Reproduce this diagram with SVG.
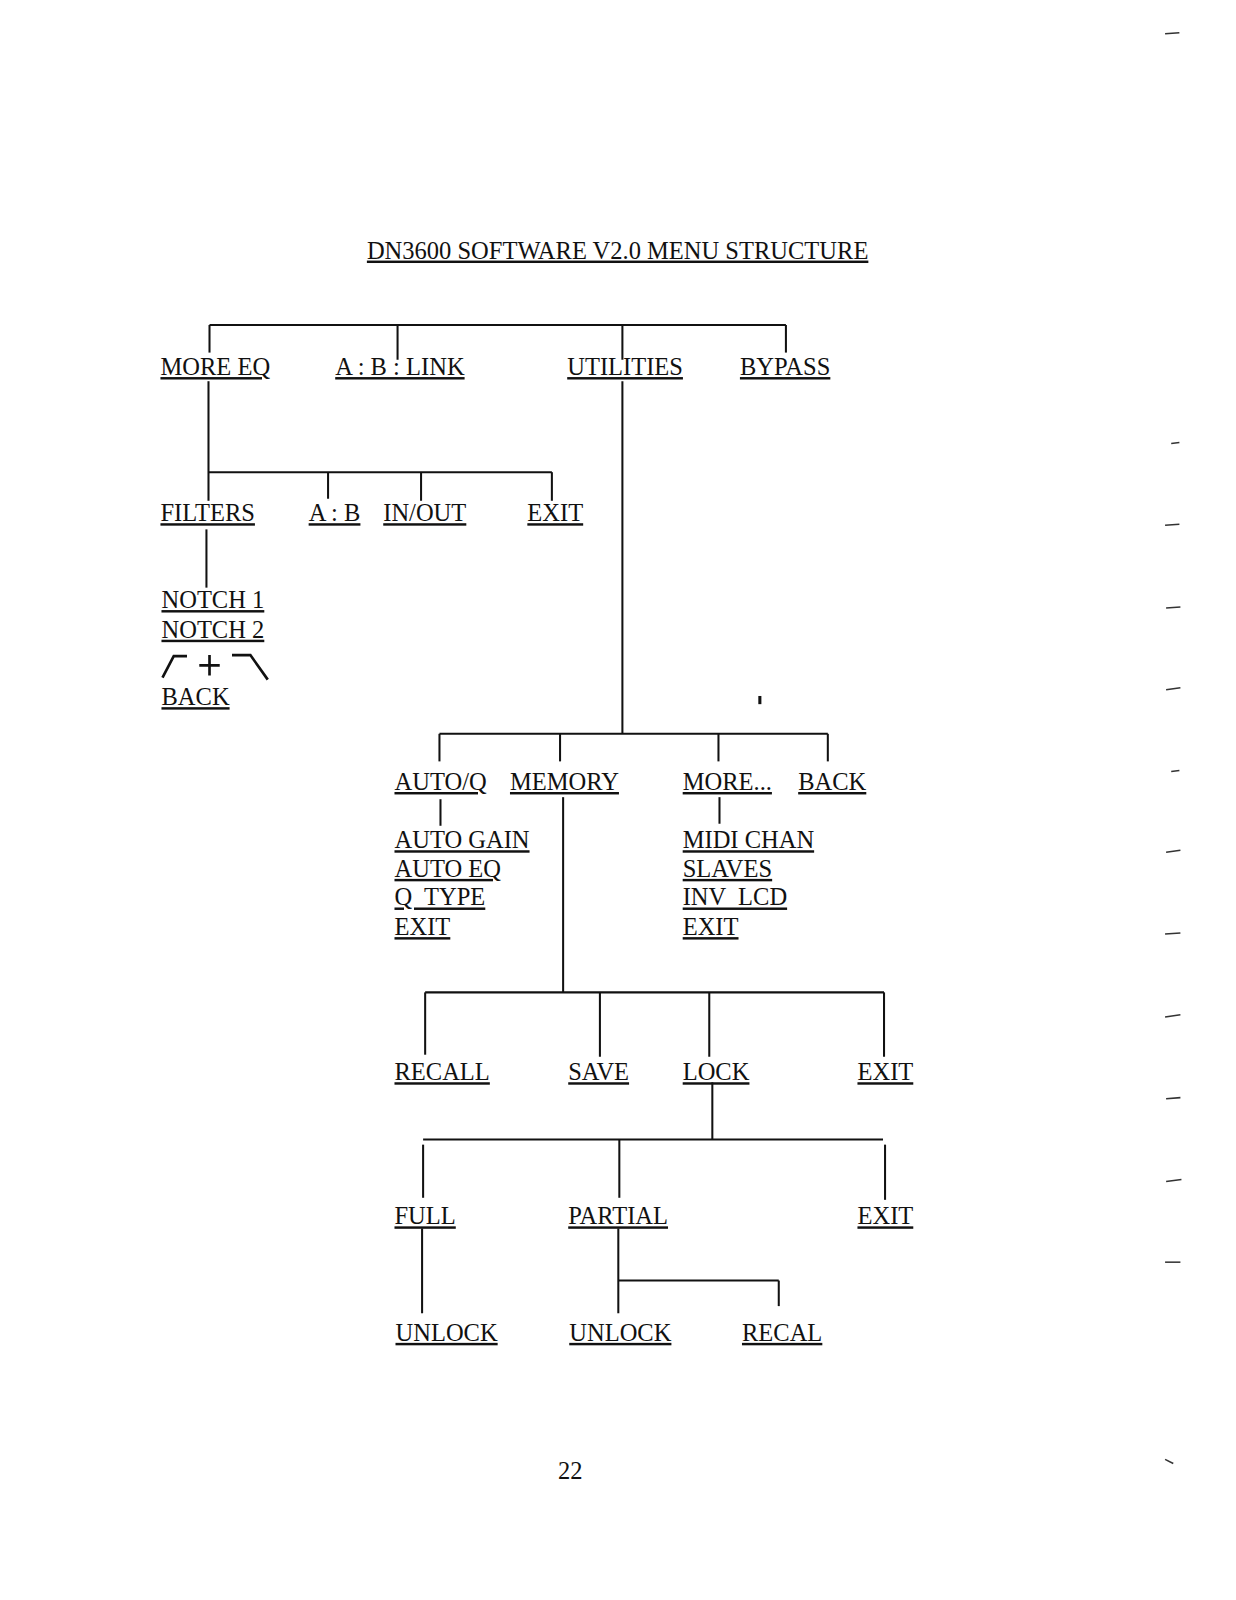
<svg xmlns="http://www.w3.org/2000/svg" width="1236" height="1600" viewBox="0 0 1236 1600">
<style>
text{font-family:"Liberation Serif","Times New Roman",serif;font-size:24px;fill:#111;white-space:pre}
.u{text-decoration:underline}
.c line,.c path{stroke:#111;stroke-width:2;fill:none}
.m{stroke:#333;stroke-width:1.5;fill:none}
</style>
<rect width="1236" height="1600" fill="#fff"/>
<g id="page-content" transform="scale(1.022)">
<g id="title"><text class="u" x="359" y="253">DN3600 SOFTWARE V2.0 MENU STRUCTURE</text></g>
<g class="c" id="connectors">
<line x1="205" y1="318" x2="769" y2="318"/>
<line x1="205" y1="318" x2="205" y2="345"/>
<line x1="389" y1="318" x2="389" y2="352"/>
<line x1="609" y1="318" x2="609" y2="352"/>
<line x1="769" y1="318" x2="769" y2="345"/>
<line x1="204" y1="373" x2="204" y2="490"/>
<line x1="204" y1="462" x2="540" y2="462"/>
<line x1="321" y1="462" x2="321" y2="488"/>
<line x1="412" y1="462" x2="412" y2="490"/>
<line x1="540" y1="462" x2="540" y2="490"/>
<line x1="202" y1="518" x2="202" y2="575"/>
<line x1="609" y1="373" x2="609" y2="718"/>
<line x1="430" y1="718" x2="810" y2="718"/>
<line x1="430" y1="718" x2="430" y2="745"/>
<line x1="548" y1="718" x2="548" y2="745"/>
<line x1="703" y1="718" x2="703" y2="745"/>
<line x1="810" y1="718" x2="810" y2="745"/>
<line x1="431" y1="782" x2="431" y2="808"/>
<line x1="704" y1="780" x2="704" y2="806"/>
<line x1="551" y1="780" x2="551" y2="971"/>
<line x1="416" y1="971" x2="865" y2="971"/>
<line x1="416" y1="971" x2="416" y2="1032"/>
<line x1="587" y1="971" x2="587" y2="1034"/>
<line x1="694" y1="971" x2="694" y2="1034"/>
<line x1="865" y1="971" x2="865" y2="1034"/>
<line x1="697" y1="1059" x2="697" y2="1115"/>
<line x1="414" y1="1115" x2="864" y2="1115"/>
<line x1="414" y1="1120" x2="414" y2="1172"/>
<line x1="606" y1="1115" x2="606" y2="1172"/>
<line x1="866" y1="1120" x2="866" y2="1174"/>
<line x1="413" y1="1202" x2="413" y2="1285"/>
<line x1="605" y1="1202" x2="605" y2="1285"/>
<line x1="605" y1="1253" x2="762" y2="1253"/>
<line x1="762" y1="1253" x2="762" y2="1278"/>
</g>
<g id="n-moreeq"><text class="u" x="157" y="367">MORE EQ</text></g>
<g id="n-ablink"><text class="u" x="328" y="367">A : B : LINK</text></g>
<g id="n-utilities"><text class="u" x="555" y="367">UTILITIES</text></g>
<g id="n-bypass"><text class="u" x="724" y="367">BYPASS</text></g>
<g id="n-filters"><text class="u" x="157" y="510">FILTERS</text></g>
<g id="n-ab"><text class="u" x="302" y="510">A : B</text></g>
<g id="n-inout"><text class="u" x="375" y="510">IN/OUT</text></g>
<g id="n-exit1"><text class="u" x="516" y="510">EXIT</text></g>
<g id="n-notch">
<text class="u" x="158" y="595">NOTCH 1</text>
<text class="u" x="158" y="624">NOTCH 2</text>
<path d="M159 663 L170 642 L183 642 M205 641 L205 661 M195 651 L215 651 M227 641 L245 641 L262 665" stroke="#111" stroke-width="2.6" fill="none"/>
<text class="u" x="158" y="690">BACK</text>
</g>
<g id="n-autoq"><text class="u" x="386" y="773">AUTO/Q</text></g>
<g id="n-memory"><text class="u" x="499" y="773">MEMORY</text></g>
<g id="n-more"><text class="u" x="668" y="773">MORE...</text></g>
<g id="n-back2"><text class="u" x="781" y="773">BACK</text></g>
<g id="n-autoq-items">
<text class="u" x="386" y="830">AUTO GAIN</text>
<text class="u" x="386" y="858">AUTO EQ</text>
<text class="u" x="386" y="886">Q  TYPE</text>
<text class="u" x="386" y="915">EXIT</text>
</g>
<g id="n-more-items">
<text class="u" x="668" y="830">MIDI CHAN</text>
<text class="u" x="668" y="858">SLAVES</text>
<text class="u" x="668" y="886">INV  LCD</text>
<text class="u" x="668" y="915">EXIT</text>
</g>
<g id="n-recall"><text class="u" x="386" y="1057">RECALL</text></g>
<g id="n-save"><text class="u" x="556" y="1057">SAVE</text></g>
<g id="n-lock"><text class="u" x="668" y="1057">LOCK</text></g>
<g id="n-exit2"><text class="u" x="839" y="1057">EXIT</text></g>
<g id="n-full"><text class="u" x="386" y="1198">FULL</text></g>
<g id="n-partial"><text class="u" x="556" y="1198">PARTIAL</text></g>
<g id="n-exit3"><text class="u" x="839" y="1198">EXIT</text></g>
<g id="n-unlock1"><text class="u" x="387" y="1312">UNLOCK</text></g>
<g id="n-unlock2"><text class="u" x="557" y="1312">UNLOCK</text></g>
<g id="n-recal"><text class="u" x="726" y="1312">RECAL</text></g>
<g id="page"><text x="546" y="1447">22</text></g>
<g id="marks">
<rect x="742" y="681" width="3" height="8" fill="#111"/>
<path class="m" d="M1140 33 L1154 32"/>
<path class="m" d="M1146 434 L1154 433" stroke="#999"/>
<path class="m" d="M1140 514 L1154 513"/>
<path class="m" d="M1141 595 L1155 594"/>
<path class="m" d="M1141 675 L1155 673"/>
<path class="m" d="M1146 755 L1154 754" stroke="#999"/>
<path class="m" d="M1141 834 L1155 832"/>
<path class="m" d="M1140 914 L1155 913"/>
<path class="m" d="M1140 995 L1155 993"/>
<path class="m" d="M1141 1075 L1155 1074"/>
<path class="m" d="M1141 1156 L1156 1154"/>
<path class="m" d="M1140 1235 L1155 1235"/>
<path class="m" d="M1140 1428 L1148 1432"/>
</g>
</g>
</svg>
